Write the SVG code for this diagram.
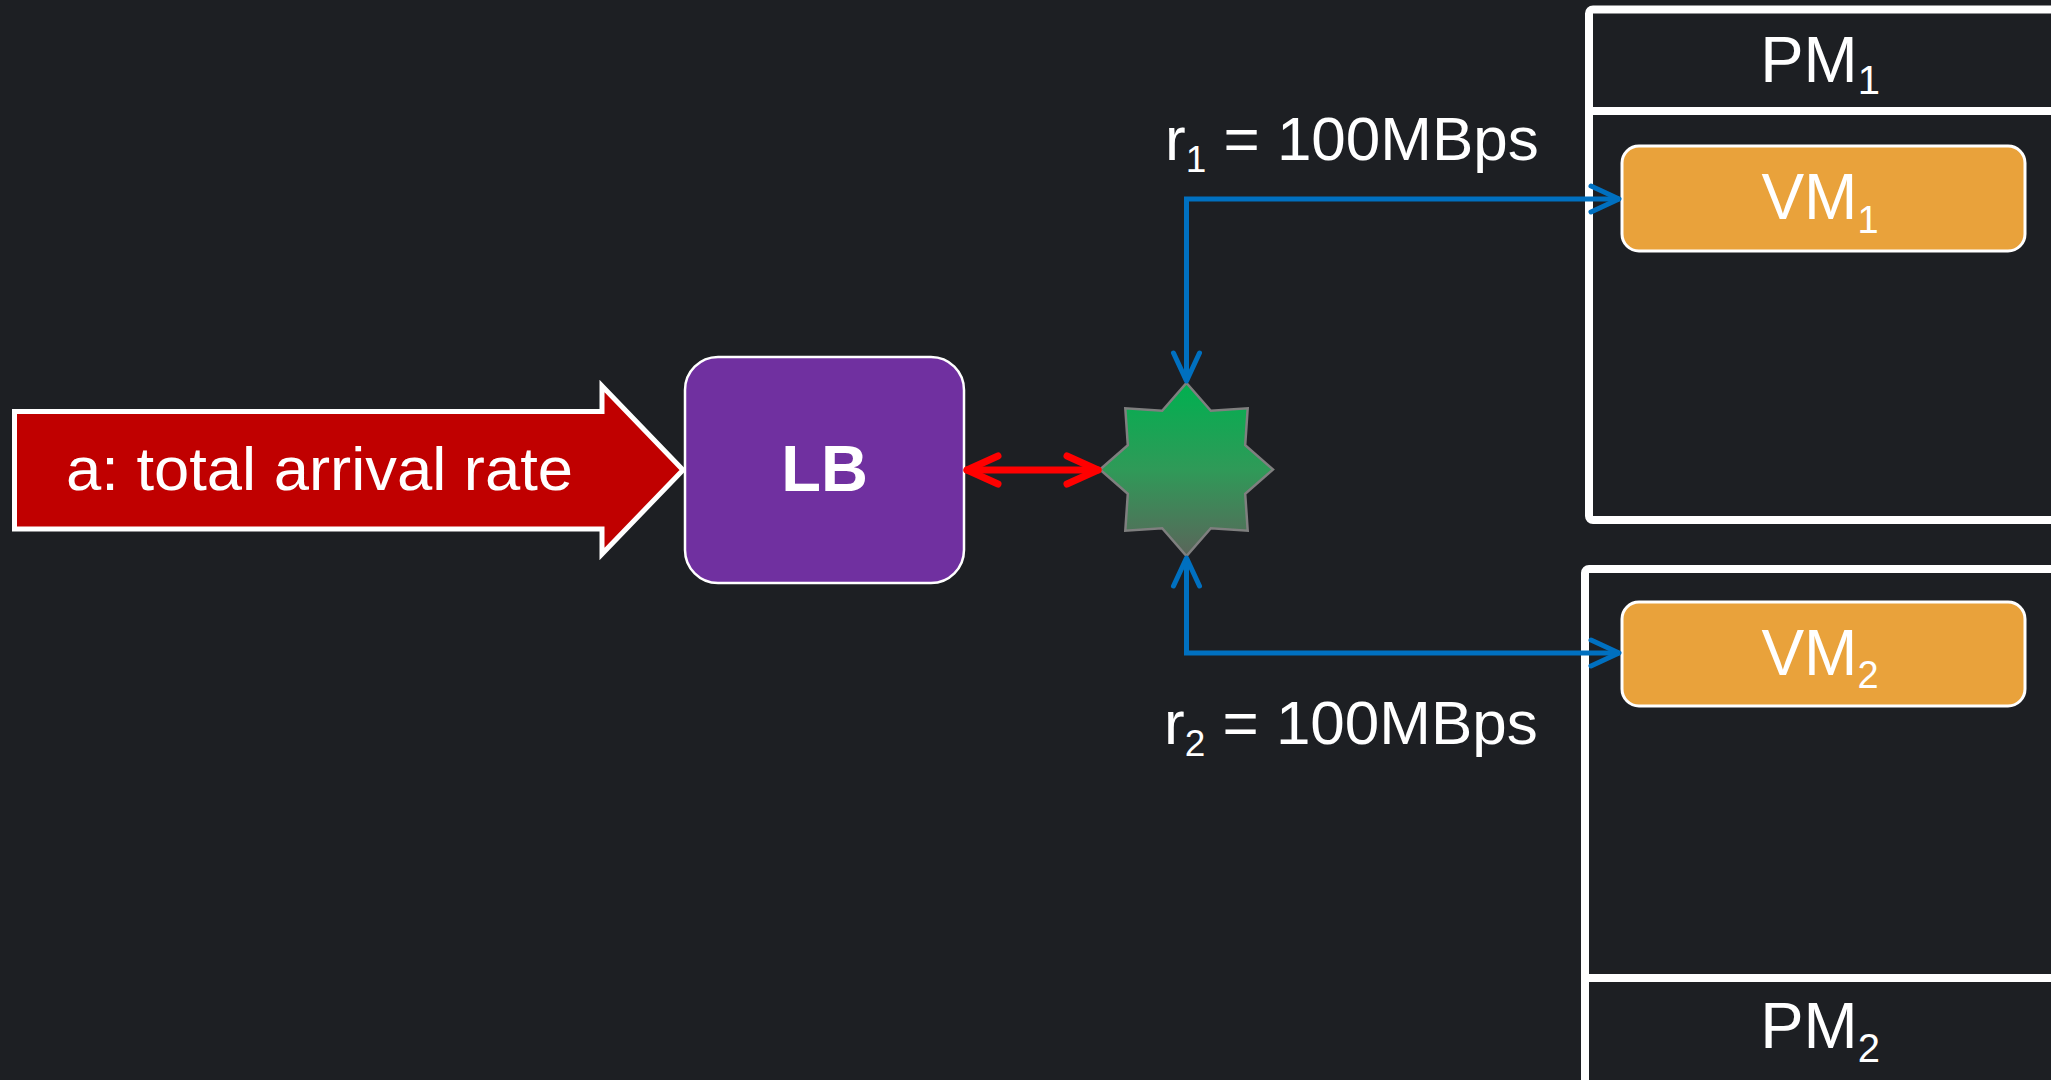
<svg xmlns="http://www.w3.org/2000/svg" width="2051" height="1080" viewBox="0 0 2051 1080">
<style>
text{font-family:"Liberation Sans",Arial,sans-serif;fill:#ffffff}
.pm{fill:none;stroke:#ffffff;stroke-width:8}
.vm{fill:#E9A23B;stroke:#ffffff;stroke-width:3}
.lbl{font-size:64px}
.blue{fill:none;stroke:#0070C0;stroke-width:5;stroke-linejoin:miter}
.red{fill:none;stroke:#FF0000;stroke-width:7;stroke-linecap:round}
</style>
<defs>
<linearGradient id="starGrad" x1="0" y1="0" x2="0" y2="1">
<stop offset="0" stop-color="#00B050"/>
<stop offset="0.5" stop-color="#2F9A58"/>
<stop offset="1" stop-color="#5A655A"/>
</linearGradient>
<marker id="blueHead" markerUnits="userSpaceOnUse" viewBox="-40 -20 50 40" refX="0" refY="0" markerWidth="50" markerHeight="40" orient="auto-start-reverse" overflow="visible">
<path d="M -28 -13 L 0 0 L -28 13" fill="none" stroke="#0070C0" stroke-width="5" stroke-linecap="round" stroke-linejoin="round"/>
</marker>
<marker id="redHead" markerUnits="userSpaceOnUse" viewBox="-40 -20 50 40" refX="0" refY="0" markerWidth="50" markerHeight="40" orient="auto-start-reverse" overflow="visible">
<path d="M -31 -14 L 0 0 L -31 14" fill="none" stroke="#FF0000" stroke-width="7" stroke-linecap="round" stroke-linejoin="round"/>
</marker>
</defs>
<rect x="0" y="0" width="2051" height="1080" fill="#1D1F23"/>

<g id="arrival">
<polygon points="14.5,411.5 602,411.5 602,386 683,470 602,554 602,529 14.5,529" fill="#C00000" stroke="#ffffff" stroke-width="5"/>
<text x="66" y="490" font-size="62" textLength="507" lengthAdjust="spacingAndGlyphs">a: total arrival rate</text>
</g>

<g id="lb">
<rect x="685" y="357" width="279" height="226" rx="33" fill="#7030A0" stroke="#ffffff" stroke-width="2.5"/>
<text x="824.5" y="491" font-size="65" font-weight="bold" text-anchor="middle">LB</text>
</g>

<g id="switch">
<polygon points="1186.5,383 1210.8,410.8 1247.7,408.3 1245.2,445.2 1273,469.5 1245.2,493.8 1247.7,530.7 1210.8,528.2 1186.5,556 1162.2,528.2 1125.3,530.7 1127.8,493.8 1100,469.5 1127.8,445.2 1125.3,408.3 1162.2,410.8" fill="url(#starGrad)" stroke="#7F7F7F" stroke-width="2.5"/>
</g>

<g id="pm1">
<rect class="pm" x="1589" y="9.5" width="520" height="510.5" rx="4"/>
<line class="pm" x1="1589" y1="111" x2="2060" y2="111"/>
<text x="1820" y="82" font-size="65" text-anchor="middle">PM<tspan font-size="40" dy="12">1</tspan></text>
</g>

<g id="vm1">
<rect class="vm" x="1622" y="146" width="403" height="105" rx="17"/>
<text x="1820" y="219" font-size="64" text-anchor="middle">VM<tspan font-size="38" dy="14">1</tspan></text>
</g>

<g id="pm2">
<rect class="pm" x="1585" y="569" width="520" height="520" rx="4"/>
<line class="pm" x1="1585" y1="978" x2="2060" y2="978"/>
<text x="1820" y="1048" font-size="65" text-anchor="middle">PM<tspan font-size="40" dy="14">2</tspan></text>
</g>

<g id="vm2">
<rect class="vm" x="1622" y="602" width="403" height="104" rx="17"/>
<text x="1820" y="675" font-size="64" text-anchor="middle">VM<tspan font-size="38" dy="13">2</tspan></text>
</g>

<g id="connectors">
<path class="red" d="M 967 470 L 1098 470" marker-start="url(#redHead)" marker-end="url(#redHead)"/>
<path class="blue" d="M 1186.5 381 L 1186.5 199 L 1619 199" marker-start="url(#blueHead)" marker-end="url(#blueHead)"/>
<path class="blue" d="M 1186.5 558 L 1186.5 653 L 1619 653" marker-start="url(#blueHead)" marker-end="url(#blueHead)"/>
</g>

<g id="labels">
<text x="1165" y="160" font-size="62">r<tspan font-size="37" dy="12">1</tspan><tspan dy="-12"> = 100MBps</tspan></text>
<text x="1164" y="744" font-size="62">r<tspan font-size="37" dy="12">2</tspan><tspan dy="-12"> = 100MBps</tspan></text>
</g>
</svg>
